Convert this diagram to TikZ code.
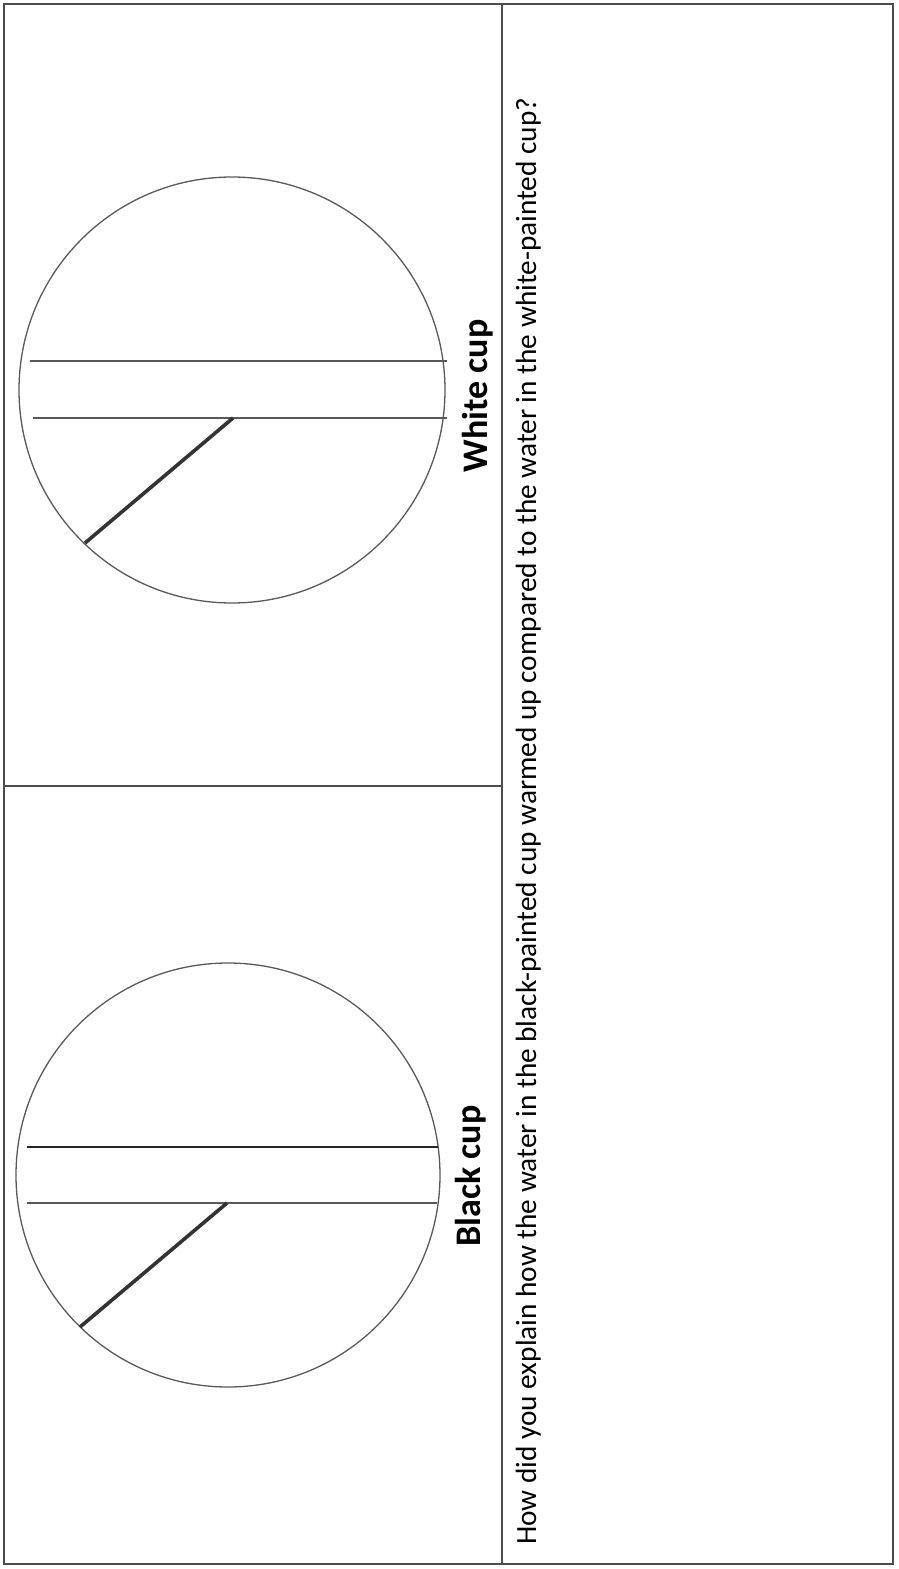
\documentclass[tikz,border=0pt]{standalone}
\usepackage{fontspec}
\setmainfont{Carlito}
\usepackage{tikz}
\usetikzlibrary{positioning, calc}

\begin{document}
\begin{tikzpicture}[
  x=1pt, y=-1pt,
  frame/.style={draw=black!70, line width=1.2pt},
  dial/.style={draw=black!65, line width=1.3pt},
  level/.style={draw=black!65, line width=1.1pt},
  needle/.style={draw=black!80, line width=3.6pt},
  cuplabel/.style={font=\fontsize{36}{40}\selectfont\bfseries, rotate=90, anchor=base, inner sep=0pt},
  question/.style={font=\fontsize{29.3}{33}\selectfont, rotate=90, anchor=base west, inner sep=0pt},
]
\useasboundingbox (0,0) rectangle (898,1569);

% ===== table frame =====
\draw[frame] (4,4) rectangle (893,1564);
\draw[frame] (502,4) -- (502,1564);
\draw[frame] (4,786) -- (502,786);

% ===== White cup (top) =====
\coordinate (wc) at (232,390);
\draw[dial] (wc) circle (213);
\draw[level] (30,361) -- (447,361);
\draw[level] (33,418) -- (447,418);
\coordinate (wpivot) at (233,418);
\coordinate (wtip) at (85,543);
\draw[needle] (wpivot) -- (wtip);
\node[cuplabel] (wlabel) at (487,396) {White cup};

% ===== Black cup (bottom) =====
\coordinate (bc) at (228,1175);
\draw[dial] (bc) circle (212);
\draw[level, draw=black!85, line width=1.8pt] (27,1147) -- (438,1147);
\draw[level] (27,1203) -- (437,1203);
\coordinate (bpivot) at (227,1203);
\coordinate (btip) at (80,1327);
\draw[needle] (bpivot) -- (btip);
\node[cuplabel] (blabel) at (480,1176) {Black cup};

% ===== question =====
\node[question] (ask) at (536,1545) {How did you explain how the water in the black-painted cup warmed up compared to the water in the white-painted cup?};

\end{tikzpicture}
\end{document}
